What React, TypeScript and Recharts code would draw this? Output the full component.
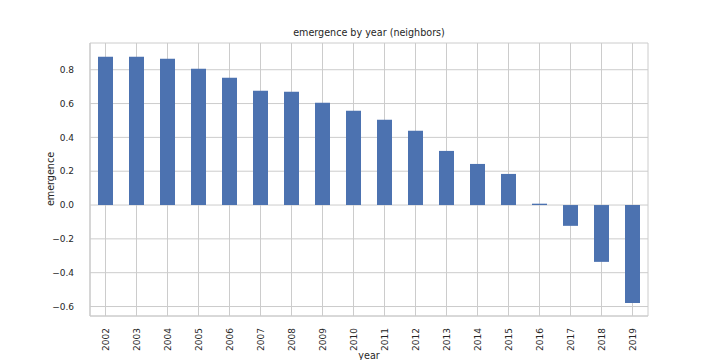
import React from "react";
import {
  BarChart,
  Bar,
  XAxis,
  YAxis,
  CartesianGrid,
} from "recharts";

const years = [
  "2002", "2003", "2004", "2005", "2006", "2007", "2008", "2009", "2010",
  "2011", "2012", "2013", "2014", "2015", "2016", "2017", "2018", "2019",
];
const emergence = [
  0.877, 0.877, 0.865, 0.806, 0.753, 0.676, 0.67, 0.605, 0.557,
  0.504, 0.439, 0.32, 0.243, 0.184, 0.008, -0.123, -0.336, -0.579,
];
const yTicks = [-0.6, -0.4, -0.2, 0.0, 0.2, 0.4, 0.6, 0.8];
const yDomain = [-0.656, 0.958];

const data = years.map((y, i) => ({ year: y, emergence: emergence[i] }));

const FONT = "'DejaVu Sans', sans-serif";
const TEXT = "#262626";
const GRID = "#cccccc";
const BAR = "#4c72b0";

const fmt = (v: number) => v.toFixed(1).replace("-", "\u2212");

const XTick = (props: any) => {
  const { x, y, payload } = props;
  return (
    <text
      x={0}
      y={0}
      transform={`translate(${x + 3},${y + 4}) rotate(-90)`}
      textAnchor="end"
      fontSize={9}
      fontFamily={FONT}
      fill={TEXT}
    >
      {payload.value}
    </text>
  );
};

export default function App() {
  return (
    <div style={{ position: "absolute", left: 0, top: 0, width: 720, height: 360, background: "#fff" }}>
      <BarChart
        width={720}
        height={360}
        data={data}
        margin={{ top: 43, right: 72, bottom: 0, left: 0 }}
        barSize={15}
      >
        <CartesianGrid stroke={GRID} strokeWidth={1} />
        <XAxis
          dataKey="year"
          interval={0}
          height={44}
          tick={<XTick />}
          tickLine={false}
          axisLine={{ stroke: GRID, strokeWidth: 1.2 }}
        />
        <XAxis
          xAxisId="top"
          orientation="top"
          dataKey="year"
          height={0}
          tick={false}
          tickLine={false}
          axisLine={{ stroke: GRID, strokeWidth: 1.2 }}
        />
        <YAxis
          type="number"
          domain={yDomain}
          ticks={yTicks}
          width={90}
          tickFormatter={fmt}
          tickLine={false}
          tickMargin={10}
          tick={{ fontSize: 9, fontFamily: FONT, fill: TEXT }}
          axisLine={{ stroke: GRID, strokeWidth: 1.2 }}
          allowDataOverflow
        />
        <YAxis
          yAxisId="right"
          orientation="right"
          type="number"
          domain={yDomain}
          width={0}
          tick={false}
          tickLine={false}
          axisLine={{ stroke: GRID, strokeWidth: 1.2 }}
        />
        <Bar dataKey="emergence" fill={BAR} isAnimationActive={false} />
        <text x={369} y={36} textAnchor="middle" fontSize={9.6} fontFamily={FONT} fill={TEXT}>
          emergence by year (neighbors)
        </text>
        <text x={369} y={359} textAnchor="middle" fontSize={9.6} fontFamily={FONT} fill={TEXT}>
          year
        </text>
        <text
          x={0}
          y={0}
          transform="translate(54,179) rotate(-90)"
          textAnchor="middle"
          fontSize={9.6}
          fontFamily={FONT}
          fill={TEXT}
        >
          emergence
        </text>
      </BarChart>
    </div>
  );
}
